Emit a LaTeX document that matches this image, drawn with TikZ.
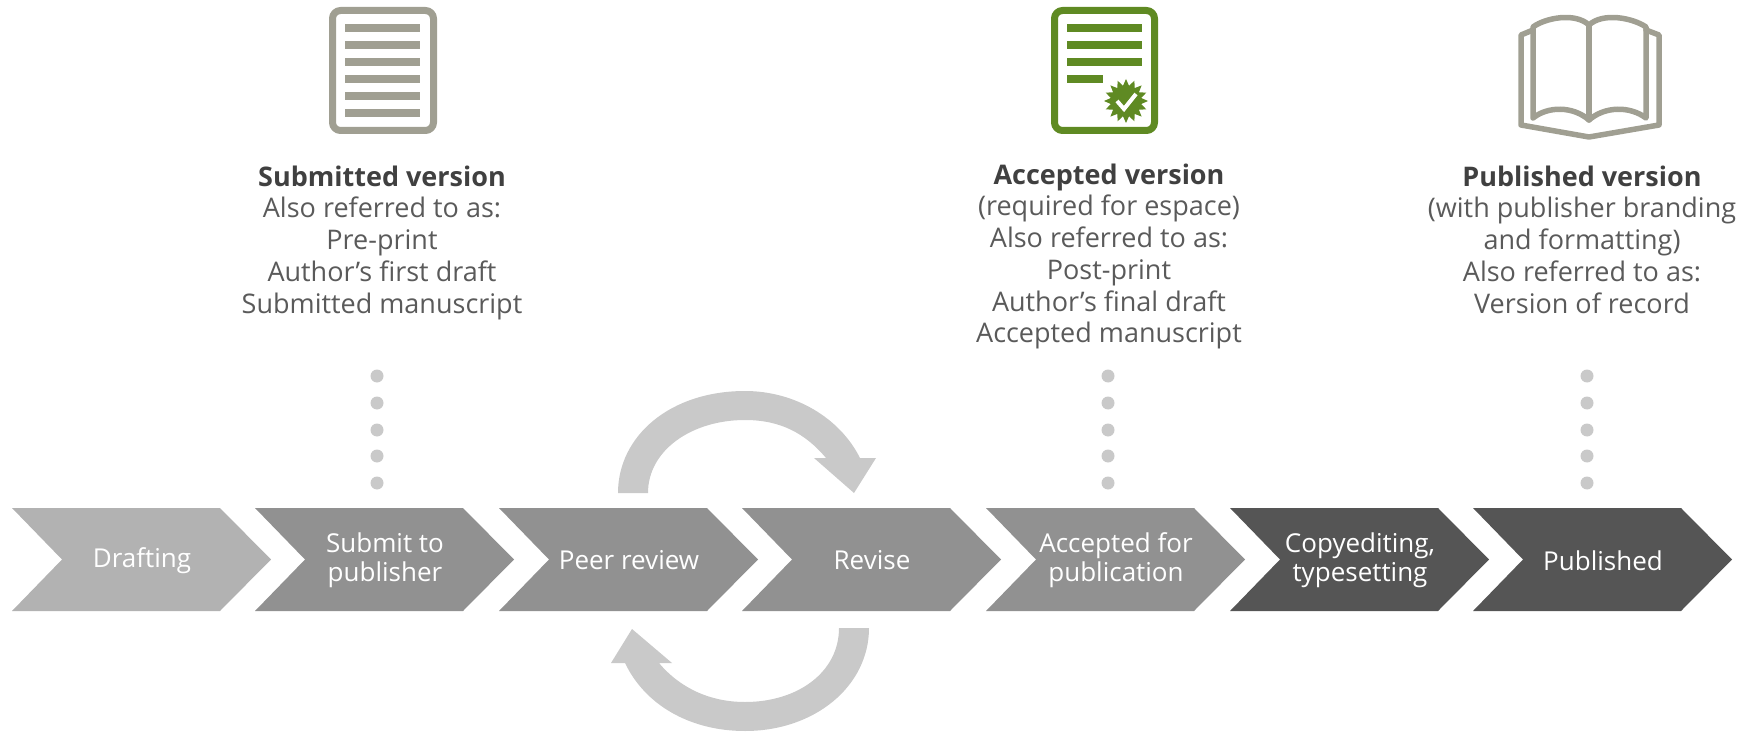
\documentclass[tikz,border=0pt]{standalone}
\usepackage{fontspec}
\setmainfont{Open Sans}
\definecolor{cdraft}{HTML}{B2B2B2}
\definecolor{cmid}{HTML}{919191}
\definecolor{cdark}{HTML}{555555}
\definecolor{ctext}{HTML}{5A5A5A}
\definecolor{chead}{HTML}{404040}
\definecolor{cdot}{HTML}{C9C9C9}
\definecolor{cloop}{HTML}{C9C9C9}
\definecolor{cicon}{HTML}{A09F92}
\definecolor{cgreen}{HTML}{5F8A23}
\tikzset{
  steplabel/.style={text=white,align=center,font=\fontsize{26}{29}\selectfont,inner sep=0pt},
  vertext/.style={text=ctext,align=center,font=\fontsize{27}{31.7}\selectfont,inner sep=0pt,anchor=north},
  dotmark/.style={circle,fill=cdot,draw=none,minimum size=13pt,inner sep=0pt},
  iconline/.style={line width=7pt,line join=round},
  iconbar/.style={line width=8pt},
  bookline/.style={cicon,line width=5.5pt,line join=round,line cap=round},
}
\newcommand{\chevron}[4]{%
  \fill[#3] (#2,508) -- (#2+208,508) -- (#2+259,559.5) -- (#2+208,611) -- (#2,611) -- (#2+50,559.5) -- cycle;
  \node[steplabel] (#1) at (#2+130,560.5) {#4};
}
\newcommand{\dotcolumn}[2]{%
  \foreach \i/\yy in {1/376,2/403,3/430,4/456,5/483}{\node[dotmark] (#1\i) at (#2,\yy) {};}
}
\begin{document}
\begin{tikzpicture}[x=1pt,y=-1pt]
\useasboundingbox (0,0) rectangle (1741,733);
% icons
\draw[cicon,iconline,rounded corners=8pt] (332.5,10.5) rectangle (433.5,130.5);
\foreach \yy in {28,45,62,79,96,113}{\draw[cicon,iconbar] (345,\yy) -- (420,\yy);}
\draw[cgreen,iconline,rounded corners=8pt] (1054.5,10.5) rectangle (1154.5,130.5);
\foreach \yy in {28,45,62}{\draw[cgreen,iconbar] (1067,\yy) -- (1142,\yy);}
\draw[cgreen,iconbar] (1067,79) -- (1103,79);
\fill[cgreen] (1148,101)
  \foreach \a in {0,22.5,...,337.5}{ -- ({1126+22*cos(\a)},{101+22*sin(\a)}) -- ({1126+15.5*cos(\a+11.25)},{101+15.5*sin(\a+11.25)})} -- cycle;
\draw[white,line width=4pt] (1117,101) -- (1124,109) -- (1136,94);
% book
\draw[bookline] (1533,118) -- (1533,27) .. controls (1545,18) and (1575,12) .. (1589,25) .. controls (1603,12) and (1633,18) .. (1646,27) -- (1646,118) .. controls (1630,106) and (1605,106) .. (1589,120) .. controls (1573,106) and (1548,106) .. (1533,118);
\draw[bookline] (1589,25) -- (1589,120);
\draw[bookline] (1533,30) -- (1521,35) -- (1521,125) -- (1589,137) -- (1659,125) -- (1659,35) -- (1646,30);
% version texts
\node[vertext] (sub) at (382,165.5) {{\bfseries\color{chead}Submitted version}\\Also referred to as:\\Pre-print\\Author’s first draft\\Submitted manuscript};
\node[vertext] (acc) at (1109,163.5) {{\bfseries\color{chead}Accepted version}\\(required for espace)\\Also referred to as:\\Post-print\\Author’s final draft\\Accepted manuscript};
\node[vertext] (pub) at (1582,165.5) {{\bfseries\color{chead}Published version}\\(with publisher branding\\and formatting)\\Also referred to as:\\Version of record};
% dots
\dotcolumn{da}{377}
\dotcolumn{db}{1108}
\dotcolumn{dc}{1587}
% loops
\fill[cloop] (618,493) .. controls (618,436) and (670,391) .. (745,391) .. controls (795,391) and (840,418) .. (860,458) -- (876,458) -- (854,493) -- (814,458) -- (826,458) .. controls (805,433) and (780,420) .. (745,420) .. controls (692,420) and (648,450) .. (648,493) -- cycle;
\fill[cloop] (869,628) .. controls (869,686) and (815,731) .. (745,731) .. controls (690,731) and (645,705) .. (625,663) -- (611,663) -- (632,629) -- (672,663) -- (659,663) .. controls (680,688) and (710,702) .. (745,702) .. controls (798,702) and (839,672) .. (839,628) -- cycle;
% chevrons
\chevron{drafting}{12}{cdraft}{Drafting}
\chevron{submit}{255}{cmid}{Submit to\\publisher}
\chevron{peer}{499}{cmid}{Peer review}
\chevron{revise}{742}{cmid}{Revise}
\chevron{accepted}{986}{cmid}{Accepted for\\publication}
\chevron{copy}{1230}{cdark}{Copyediting,\\typesetting}
\chevron{published}{1473}{cdark}{Published}
\end{tikzpicture}
\end{document}
